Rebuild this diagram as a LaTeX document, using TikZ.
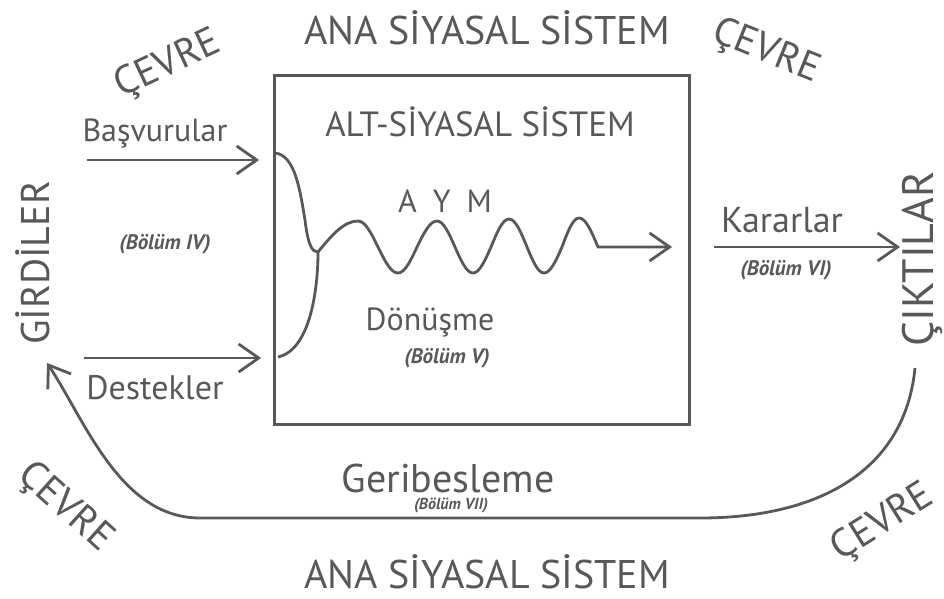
\documentclass[tikz,border=0pt]{standalone}
\usepackage{fontspec}
\setmainfont{PT Sans}
\usetikzlibrary{arrows.meta, positioning}
\definecolor{ink}{RGB}{88,88,88}

\begin{document}
\begin{tikzpicture}[x=1pt, y=-1pt,
    lbl/.style={text=ink, inner sep=0pt},
    big/.style={lbl, font=\fontsize{40}{40}\selectfont},
    mid/.style={lbl, font=\fontsize{32}{32}\selectfont},
    ref/.style={lbl, font=\fontsize{21}{21}\selectfont\bfseries\itshape},
    arrow/.style={-{Straight Barb[length=20pt, width=28pt]}, line width=2.8pt, draw=ink},
    line/.style={line width=2.8pt, draw=ink}
]
    \useasboundingbox (0,0) rectangle (944,599);
    \node[draw=ink, line width=2.8pt, minimum width=415pt, minimum height=349pt, inner sep=0pt] (alt) at (482,250) {};

    \node[big] (anaup) at (487,28) {ANA SİYASAL SİSTEM};
    \node[big] (anadown) at (487,572) {ANA SİYASAL SİSTEM};
    \node[big, rotate=25] (cevretl) at (168,65) {ÇEVRE};
    \node[big, rotate=-22] (cevretr) at (766,52) {ÇEVRE};
    \node[big, rotate=-42] (cevrebl) at (65,508) {ÇEVRE};
    \node[big, rotate=32] (cevrebr) at (883,523) {ÇEVRE};
    \node[big, rotate=90] (girdi) at (33,263) {GİRDİLER};
    \node[big, rotate=90, font=\fontsize{44}{44}\selectfont] (cikti) at (922,259) {ÇIKTILAR};
    \node[mid, font=\fontsize{35}{35}\selectfont] (altlbl) at (480,122) {ALT-SİYASAL SİSTEM};
    \node[mid] (aym) at (445,201) {A\hspace{0.5em}Y\hspace{0.5em}M};
    \node[mid] (basv) at (155,133) {Başvurular};
    \node[mid, font=\fontsize{34}{34}\selectfont] (dest) at (155,388) {Destekler};
    \node[mid, font=\fontsize{36}{36}\selectfont] (karar) at (782,220) {Kararlar};
    \node[mid] (donus) at (430,322) {Dönüşme};
    \node[big] (geri) at (448,478) {Geribesleme};
    \node[ref] (b4) at (165,244) {(Bölüm IV)};
    \node[ref] (b5) at (447,358) {(Bölüm V)};
    \node[ref] (b6) at (786,270) {(Bölüm VI)};
    \node[ref, font=\fontsize{16}{16}\selectfont\bfseries\itshape] (b7) at (451,505) {(Bölüm VII)};

    % girdiler
    \coordinate (basin) at (87,160);
    \coordinate (desin) at (84,358);
    \draw[arrow] (basin) -- ([xshift=-14pt]alt.west |- basin);
    \draw[arrow] (desin) -- ([xshift=-12pt]alt.west |- desin);

    % donusme
    \coordinate (bastop) at (275,153);
    \coordinate (desbot) at (278,357);
    \coordinate (jn) at (318,252);
    \coordinate (wout) at (672,247);
    \draw[line] (bastop) .. controls (295,155) and (300,190) .. (305,220)
        .. controls (308,245) and (312,252) .. (jn);
    \draw[line] (jn) .. controls (318,290) and (310,350) .. (desbot);
    \draw[arrow] (jn) sin (358,221) cos (378,247) sin (398,273) cos (417,247)
        sin (437,221) cos (455,247) sin (473,273) cos (491,247)
        sin (509,219) cos (527,247) sin (544,273) cos (562,247)
        sin (579,218) cos (598,247) -- (wout);

    % ciktilar
    \coordinate (kout) at (900,247);
    \draw[arrow] ([xshift=23pt]alt.east |- kout) -- (kout);

    % geribesleme
    \coordinate (fbstart) at (915,368);
    \coordinate (fbend) at (47,363);
    \draw[arrow] (fbstart) .. controls (905,470) and (820,518) .. (700,518)
        -- (200,518) .. controls (120,518) and (85,420) .. (fbend);
\end{tikzpicture}
\end{document}
